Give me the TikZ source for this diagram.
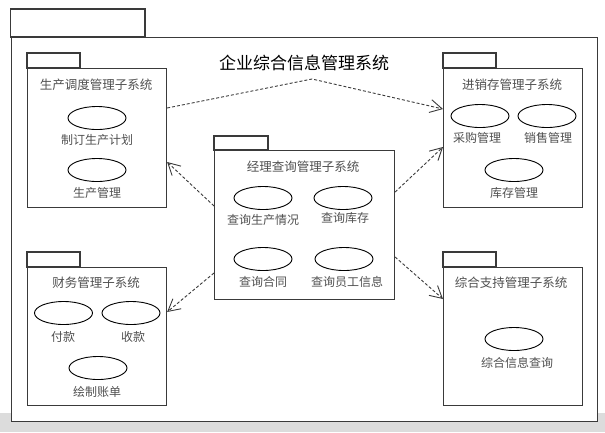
\documentclass[tikz,border=0pt]{standalone}
\usepackage{fontspec}
\newfontfamily\cjk{Noto Sans CJK SC}
\usetikzlibrary{arrows.meta,calc,shapes.geometric}
\definecolor{linec}{HTML}{3A3A3A}
\definecolor{txtc}{HTML}{505050}
\definecolor{bandc}{HTML}{DCDCDC}
\tikzset{
  pkgbody/.style={draw=linec, line width=1.1pt, fill=white, rectangle, anchor=north west, inner sep=0pt},
  pkgtab/.style={draw=linec, line width=1.1pt, fill=white},
  uc/.style={draw=black, line width=0.9pt, ellipse, minimum width=58pt, minimum height=23pt, inner sep=0pt},
  lbl/.style={text=txtc, font=\cjk\fontsize{12}{12}\selectfont, inner sep=0pt},
  ttl/.style={text=txtc, font=\cjk\fontsize{12.5}{12.5}\selectfont, inner sep=0pt},
  dep/.style={draw=linec, line width=0.9pt, dash pattern=on 3pt off 2pt, -{Straight Barb[length=12pt,width=13pt,line width=0.9pt]}},
}
\begin{document}
\begin{tikzpicture}[x=1pt,y=-1pt]
\useasboundingbox (0,0) rectangle (605,432);
\fill[white] (0,0) rectangle (605,432);
\fill[bandc] (0,413) rectangle (605,432);
% outer package
\draw[pkgtab] (10.5,9) rectangle (145,37);
\node[pkgbody, minimum width=586.5pt, minimum height=384pt] (outer) at (10.5,37) {};
\node[text=black, font=\cjk\fontsize{17}{17}\selectfont, inner sep=0pt] (title) at (304,63) {企业综合信息管理系统};
% production
\draw[pkgtab] (27,53) rectangle (80,68);
\node[pkgbody, minimum width=139pt, minimum height=139pt] (prod) at (27,68) {};
\node[ttl] (prodt) at (96,85) {生产调度管理子系统};
\node[uc] (p1) at (97,118) {};
\node[lbl] (p1l) at (97,140) {制订生产计划};
\node[uc] (p2) at (97,170) {};
\node[lbl] (p2l) at (97,193) {生产管理};
% inventory
\draw[pkgtab] (443,53) rectangle (496,68);
\node[pkgbody, minimum width=139pt, minimum height=139pt] (inv) at (443,68) {};
\node[ttl] (invt) at (512,85) {进销存管理子系统};
\node[uc] (i1) at (480,116) {};
\node[lbl] (i1l) at (477,138) {采购管理};
\node[uc] (i2) at (547,116) {};
\node[lbl] (i2l) at (548,138) {销售管理};
\node[uc] (i3) at (514,170) {};
\node[lbl] (i3l) at (514,193) {库存管理};
% manager
\draw[pkgtab] (214,136) rectangle (268,150);
\node[pkgbody, minimum width=180pt, minimum height=149pt] (man) at (214,150) {};
\node[ttl] (mant) at (303,167) {经理查询管理子系统};
\node[uc] (m1) at (263,198) {};
\node[lbl] (m1l) at (263,220) {查询生产情况};
\node[uc] (m2) at (343,198) {};
\node[lbl] (m2l) at (345,218) {查询库存};
\node[uc] (m3) at (263,259) {};
\node[lbl] (m3l) at (263,282) {查询合同};
\node[uc] (m4) at (344,259) {};
\node[lbl] (m4l) at (347,282) {查询员工信息};
% finance
\draw[pkgtab] (27,252) rectangle (80,267);
\node[pkgbody, minimum width=139pt, minimum height=138pt] (fin) at (27,267) {};
\node[ttl] (fint) at (96,283) {财务管理子系统};
\node[uc] (f1) at (63.5,313) {};
\node[lbl] (f1l) at (63,337) {付款};
\node[uc] (f2) at (131,313) {};
\node[lbl] (f2l) at (133,337) {收款};
\node[uc] (f3) at (98,368) {};
\node[lbl] (f3l) at (97,392) {绘制账单};
% support
\draw[pkgtab] (443,252) rectangle (496,267);
\node[pkgbody, minimum width=139pt, minimum height=138pt] (sup) at (443,267) {};
\node[ttl] (supt) at (511,283) {综合支持管理子系统};
\node[uc] (s1) at (514,339) {};
\node[lbl] (s1l) at (517,363) {综合信息查询};
% dependencies
\coordinate (apex) at (312,79);
\draw[dep] ($(prod.north east)+(0,40)$) -- (apex) -- ($(inv.north west)+(0,41)$);
\draw[dep] ($(man.north west)+(0,56)$) -- ($(prod.north east)+(0,94)$);
\draw[dep] ($(man.north west)+(0,123)$) -- ($(fin.north east)+(0,45)$);
\draw[dep] ($(man.north east)+(0,42)$) -- ($(inv.north west)+(0,79)$);
\draw[dep] ($(man.north east)+(0,107)$) -- ($(sup.north west)+(0,32)$);
\end{tikzpicture}
\end{document}
